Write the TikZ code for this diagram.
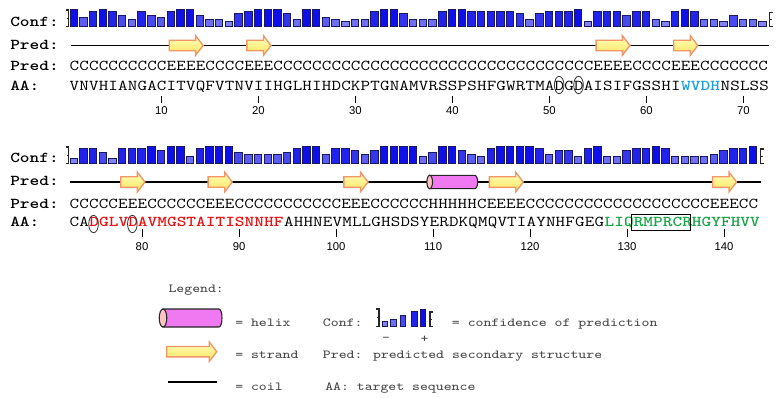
\documentclass[tikz,border=0pt]{standalone}
\usepackage{fontspec}
\newfontfamily\numfont{Liberation Sans}
\usetikzlibrary{calc}

\definecolor{seqred}{RGB}{232,20,20}
\definecolor{seqcyan}{RGB}{25,160,225}
\definecolor{seqgreen}{RGB}{25,165,70}
\definecolor{strandtop}{RGB}{255,255,190}
\definecolor{strandbot}{RGB}{255,228,90}
\definecolor{strandedge}{RGB}{240,150,105}
\definecolor{helixbody}{RGB}{240,120,240}
\definecolor{helixend}{RGB}{255,195,195}
\definecolor{barblue}{RGB}{15,15,235}
\definecolor{baredge}{RGB}{25,25,100}
\definecolor{legendgray}{RGB}{70,70,70}

% one residue cell is 9.7px wide
\newlength\cellwd
\setlength\cellwd{7.275pt}
\ExplSyntaxOn
\cs_new:Npn \ssrun #1#2 { \prg_replicate:nn {#1} {#2} }
\cs_new_protected:Npn \cells #1
  {
    \tl_set:Nx \l_tmpa_tl {#1}
    \tl_map_inline:Nn \l_tmpa_tl { \makebox[\cellwd][c]{\scalebox{1.227}[1]{##1}} }
  }
\ExplSyntaxOff

% monospace text, stretched like the rows
\newcommand{\stretchmono}[1]{\scalebox{1.227}[1]{#1}}
% strand arrow: start x, tip x, y
\newcommand{\strandarrow}[3]{%
  \filldraw[strand] (#1,#3-5.2) -- (#2-7.5,#3-5.2) -- (#2-7.5,#3-9.8)
    -- (#2,#3) -- (#2-7.5,#3+9.8) -- (#2-7.5,#3+5.2) -- (#1,#3+5.2) -- cycle;}
% helix cylinder: start x, end x, y, half height
\newcommand{\helixtube}[4]{%
  \filldraw[helix] (#1,#3-#4) -- (#2-3,#3-#4)
    arc[start angle=-90, end angle=90, x radius=3, y radius=#4]
    -- (#1,#3+#4) -- cycle;
  \filldraw[helix cap] (#1,#3) ellipse [x radius=#4*0.42, y radius=#4];}
% confidence bar: left x, bottom y, level, width
\newcommand{\confbar}[4]{%
  \pgfmathsetmacro\barpc{100-(9-#3)*8}
  \filldraw[bar, fill=barblue!\barpc!white] (#1,#2) rectangle ++(#4,-1.88*#3);}
% brackets of a confidence row: x, bottom y, top y
\newcommand{\confopen}[3]{%
  \draw[bracket] (#1-3,#3) -- (#1,#3) -- (#1,#2) -- (#1-3,#2);
  \draw[bracket] (#1,{(#2+#3)/2}) -- (#1-2,{(#2+#3)/2});}
\newcommand{\confclose}[3]{%
  \draw[bracket] (#1+3,#3) -- (#1,#3) -- (#1,#2) -- (#1+3,#2);
  \draw[bracket] (#1,{(#2+#3)/2}) -- (#1+2,{(#2+#3)/2});}

\begin{document}
\begin{tikzpicture}[
    x=0.75pt, y=-0.75pt,
    seq/.style={anchor=base west, inner sep=0pt,
      font=\ttfamily\fontsize{11.3}{13}\selectfont},
    hot/.style={seq, font=\ttfamily\bfseries\fontsize{11.3}{13}\selectfont},
    lab/.style={anchor=base west, inner sep=0pt,
      font=\ttfamily\bfseries\fontsize{11.3}{13}\selectfont},
    legend/.style={anchor=base west, inner sep=0pt, text=legendgray,
      font=\ttfamily\fontsize{9.2}{11}\selectfont},
    num/.style={anchor=base, inner sep=0pt,
      font=\numfont\fontsize{8.5}{10}\selectfont},
    coil/.style={line width=1.1pt, black},
    tick/.style={line width=0.75pt, black},
    strand/.style={draw=strandedge, line width=1pt,
      top color=strandtop, bottom color=strandbot},
    helix/.style={draw=black!85, line width=0.8pt, fill=helixbody},
    helix cap/.style={draw=black!85, line width=0.8pt, fill=helixend},
    bar/.style={draw=baredge, line width=0.45pt},
    bracket/.style={draw=black!85, line width=0.9pt},
    circ/.style={draw=black!80, line width=0.6pt}
    ]
    \fill[white] (0,0) rectangle (777,397);
    \useasboundingbox (0,0) rectangle (777,397);

    % Row 1: residues 1-72
    \node[lab] (conf1) at (10,26.7) {\stretchmono{Conf:}};
    \node[lab] (pred1) at (10,49) {\stretchmono{Pred:}};
    \node[lab] (ss1) at (10,70.7) {\stretchmono{Pred:}};
    \node[lab] (aa1) at (10,90.7) {\stretchmono{AA:}};
    \confopen{68.5}{26.7}{10}
    \foreach \v [count=\i] in {9,5,8,9,8,6,4,8,6,5,8,9,9,6,4,4,3,7,8,9,9,9,7,4,
        9,9,5,4,3,4,4,8,9,9,7,4,4,4,8,9,9,8,8,8,8,8,7,4,
        7,8,8,8,9,3,8,8,8,6,8,8,4,3,8,9,8,4,4,3,6,4,4,3}{
      \pgfmathsetmacro\bx{69.3+(\i-1)*9.7+0.5}
      \confbar{\bx}{26.7}{\v}{7.4}
    }
    \confclose{769.5}{26.7}{12.5}
    \draw[coil] (71,45.5) coordinate (c1a) -- (769,45.5) coordinate (c1b);
    \foreach \a/\b in {11/14,19/21,55/58,63/65}{
      \pgfmathsetmacro\xa{69.3+(\a-1)*9.7+3}
      \pgfmathsetmacro\xb{69.3+\b*9.7-2}
      \strandarrow{\xa}{\xb}{45.5}
    }
    \node[seq] (sstr1) at (69.3,70.7) {\cells{\ssrun{10}{C}\ssrun{4}{E}\ssrun{4}{C}\ssrun{3}{E}\ssrun{33}{C}\ssrun{4}{E}\ssrun{4}{C}\ssrun{3}{E}\ssrun{7}{C}}};
    \node[seq] (aa1a) at (69.3,90.7) {\cells{VNVHIANGACITVQFVTNVIIHGLHIHDCKPTGNAMVRSSPSHFGWRTMADGDAISIFGSSHI}};
    \node[hot, text=seqcyan] (aa1b) at (aa1a.base east) {\cells{WVDH}};
    \node[seq] (aa1c) at (aa1b.base east) {\cells{NSLSS}};
    \draw[circ] (559.15,85) ellipse [x radius=4.8, y radius=8.7];
    \draw[circ] (578.55,85) ellipse [x radius=4.8, y radius=8.7];
    \foreach \n in {10,20,...,70}{
      \pgfmathsetmacro\tx{69.3+(\n-0.5)*9.7}
      \draw[tick] (\tx,96) -- (\tx,103);
      \node[num] (t\n) at (\tx,114) {\n};
    }

    % Row 2: residues 73-143
    \node[lab] (conf2) at (10,162.7) {\stretchmono{Conf:}};
    \node[lab] (pred2) at (10,185.7) {\stretchmono{Pred:}};
    \node[lab] (ss2) at (10,208.7) {\stretchmono{Pred:}};
    \node[lab] (aa2) at (10,226.7) {\stretchmono{AA:}};
    \confopen{68.5}{163.5}{147}
    \foreach \v [count=\i] in {3,8,8,6,3,8,8,8,9,7,9,9,4,8,9,9,9,6,5,5,5,5,6,8,
        9,9,5,8,8,7,5,7,9,9,9,9,4,6,9,9,7,5,4,8,9,9,9,9,
        8,5,7,7,4,8,9,4,4,7,8,8,9,8,4,4,4,4,5,7,8,8,9}{
      \pgfmathsetmacro\bx{69.3+(\i-1)*9.7+0.5}
      \confbar{\bx}{163.5}{\v}{7.4}
    }
    \confclose{760.5}{163.5}{149}
    \draw[coil] (70,182) coordinate (c2a) -- (761,182) coordinate (c2b);
    \foreach \a/\b in {6/8,15/17,29/31,44/47,67/69}{
      \pgfmathsetmacro\xa{69.3+(\a-1)*9.7+3}
      \pgfmathsetmacro\xb{69.3+\b*9.7-2}
      \strandarrow{\xa}{\xb}{182}
    }
    \pgfmathsetmacro\xa{69.3+37*9.7+1.5}
    \pgfmathsetmacro\xb{69.3+42*9.7+1}
    \helixtube{\xa}{\xb}{182}{6.7}
    \node[seq] (sstr2) at (69.3,208.7) {\cells{\ssrun{5}{C}\ssrun{3}{E}\ssrun{6}{C}\ssrun{3}{E}\ssrun{11}{C}\ssrun{3}{E}\ssrun{6}{C}\ssrun{5}{H}C\ssrun{4}{E}\ssrun{19}{C}\ssrun{3}{E}CC}};
    \node[seq] (aa2a) at (69.3,226.7) {\cells{CA}};
    \node[hot, text=seqred] (aa2b) at (aa2a.base east) {\cells{DGLVDAVMGSTAITISNNHF}};
    \node[seq] (aa2c) at (aa2b.base east) {\cells{AHHNEVMLLGHSDSYERDKQMQVTIAYNHFGEG}};
    \node[hot, text=seqgreen] (aa2d) at (aa2c.base east) {\cells{LIQRMPRCRHGYFHVV}};
    \draw[circ] (93.55,224) ellipse [x radius=4.8, y radius=8.7];
    \draw[circ] (132.35,224) ellipse [x radius=4.8, y radius=8.7];
    \draw[line width=0.75pt] (631.9,214) rectangle (690.1,230.7);
    \foreach \n in {80,90,...,140}{
      \pgfmathsetmacro\tx{69.3+(\n-72-0.5)*9.7}
      \draw[tick] (\tx,229) -- (\tx,237);
      \node[num] (t\n) at (\tx,250) {\n};
    }

    % Legend
    \node[legend] (legtitle) at (168.3,292.7) {\stretchmono{Legend:}};
    \helixtube{163}{222}{318}{9}
    \node[legend] (eqhelix) at (235,326.7) {\stretchmono{= helix}};
    \node[legend] (legconf) at (322.7,326.7) {\stretchmono{Conf:}};
    \confopen{379}{326.7}{309}
    \foreach \v/\x in {3/382,4/390.5,6/400,8/411.5,9/420}{
      \confbar{\x}{326.7}{\v}{5.5}
    }
    \confclose{430}{326.7}{312}
    \node[legend] (eqconf) at (451.7,326.7) {\stretchmono{= confidence of prediction}};
    \node[legend, anchor=center] (lowconf) at (386,339) {\stretchmono{-}};
    \node[legend, anchor=center] (highconf) at (424.5,339) {\stretchmono{+}};
    \strandarrow{166.7}{216.7}{351.7}
    \node[legend] (eqstrand) at (235,358.3) {\stretchmono{= strand}};
    \node[legend] (legpred) at (322.7,358.3) {\stretchmono{Pred: predicted secondary structure}};
    \draw[coil] (168,382) coordinate (lc1) -- (217,382) coordinate (lc2);
    \node[legend] (eqcoil) at (235,390.7) {\stretchmono{= coil}};
    \node[legend] (legaa) at (325,390.7) {\stretchmono{AA: target sequence}};
\end{tikzpicture}
\end{document}
